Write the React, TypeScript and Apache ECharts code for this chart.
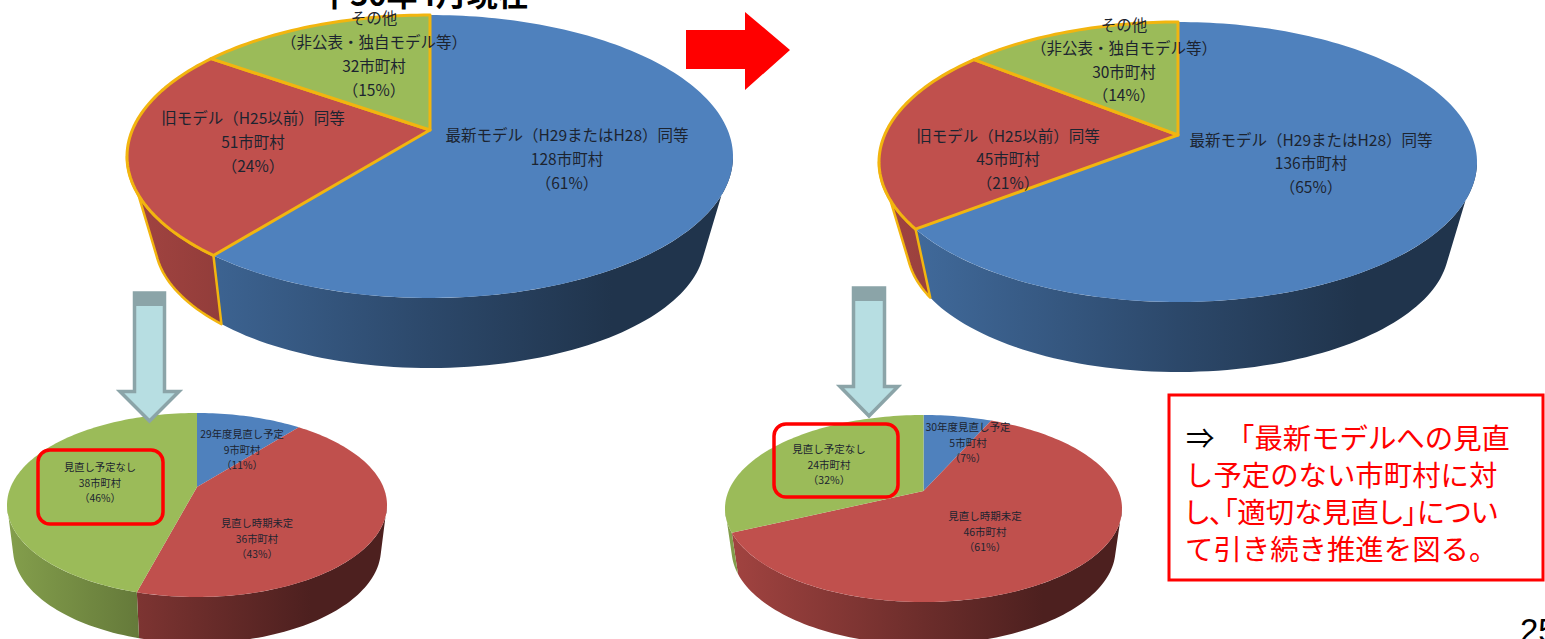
import React, { useEffect, useRef } from "react";
import * as echarts from "echarts";

const JP = '"Noto Sans CJK JP", "Noto Sans", sans-serif';

// ---- data ----
const topLeftNames = ["最新モデル（H29またはH28）同等", "旧モデル（H25以前）同等", "その他\n（非公表・独自モデル等）"];
const topLeftValues = [128, 51, 32];
const topLeftShares = ["61%", "24%", "15%"];

const topRightNames = ["最新モデル（H29またはH28）同等", "旧モデル（H25以前）同等", "その他\n（非公表・独自モデル等）"];
const topRightValues = [136, 45, 30];
const topRightShares = ["65%", "21%", "14%"];

const lowLeftNames = ["29年度見直し予定", "見直し時期未定", "見直し予定なし"];
const lowLeftValues = [9, 36, 38];
const lowLeftShares = ["11%", "43%", "46%"];

const lowRightNames = ["30年度見直し予定", "見直し時期未定", "見直し予定なし"];
const lowRightValues = [5, 46, 24];
const lowRightShares = ["7%", "61%", "32%"];

const unit = "市町村";
const titleLeft = "平30年4月現在";
const calloutArrow = "⇒";
const calloutLines = ["「最新モデルへの見直", "し予定のない市町村に対", "し、「適切な見直し」につい", "て引き続き推進を図る。"];
const pageNumber = "25";

// ---- styling and layout ----
const sliceColors = [[79, 129, 189], [192, 80, 77], [155, 187, 89]];
const GOLD = "#f2b50f";
const shade = (c: number[], k: number) => `rgb(${c.map((v) => Math.round(v * k)).join(",")})`;

type Layout = {
  cx: number; cy: number; rx: number; ry: number; t: number;
  wallCy: number; wallRx: number; wallRy: number; wallT: number;
  gold: boolean[]; fontSize: number; lineHeight: number;
  labels: number[][];
};

const pies: { names: string[]; values: number[]; shares: string[]; layout: Layout }[] = [
  {
    names: topLeftNames, values: topLeftValues, shares: topLeftShares,
    layout: {
      cx: 430, cy: 156.5, rx: 303, ry: 141.5, t: -0.187,
      wallCy: 242, wallRx: 275, wallRy: 126, wallT: -0.27,
      gold: [false, true, true], fontSize: 15.5, lineHeight: 24,
      labels: [[567, 158], [253, 141], [374, 53]],
    },
  },
  {
    names: topRightNames, values: topRightValues, shares: topRightShares,
    layout: {
      cx: 1178, cy: 162, rx: 299, ry: 140, t: -0.193,
      wallCy: 247, wallRx: 271, wallRy: 125, wallT: -0.28,
      gold: [false, true, true], fontSize: 15.5, lineHeight: 23.5,
      labels: [[1311, 162], [1008, 158], [1124, 59]],
    },
  },
  {
    names: lowLeftNames, values: lowLeftValues, shares: lowLeftShares,
    layout: {
      cx: 197, cy: 505, rx: 190, ry: 92, t: -0.196,
      wallCy: 549, wallRx: 184, wallRy: 94, wallT: -0.19,
      gold: [false, false, false], fontSize: 10.3, lineHeight: 15.7,
      labels: [[242, 449], [257, 538], [100, 482]],
    },
  },
  {
    names: lowRightNames, values: lowRightValues, shares: lowRightShares,
    layout: {
      cx: 923.5, cy: 508.5, rx: 198.5, ry: 93.5, t: -0.187,
      wallCy: 549.5, wallRx: 192, wallRy: 95, wallT: -0.19,
      gold: [false, false, false], fontSize: 10.5, lineHeight: 15.7,
      labels: [[968, 442], [985, 531], [829, 464]],
    },
  },
];

// A circle seen in perspective: radial lines stay straight and meet at the apex.
function rim(l: Layout, frac: number, wall: boolean): number[] {
  const t = wall ? l.wallT : l.t;
  const a = frac * Math.PI * 2;
  const s = Math.sqrt(1 - t * t);
  const d = 1 - t * Math.cos(a);
  const nx = (Math.sin(a) * s) / d;
  const ny = (-Math.cos(a) + t) / d;
  if (!wall) return [l.cx + nx * l.rx, l.cy + ny * l.ry];
  return [l.cx + nx * l.wallRx, l.wallCy + ny * l.wallRy];
}

function span(values: number[], i: number): number[] {
  const total = values.reduce((a, b) => a + b, 0);
  const start = values.slice(0, i).reduce((a, b) => a + b, 0);
  return [start / total, (start + values[i]) / total];
}

function arc(l: Layout, a: number, b: number, wall: boolean): number[][] {
  const n = Math.max(4, Math.ceil((b - a) * 240));
  const pts: number[][] = [];
  for (let k = 0; k <= n; k++) pts.push(rim(l, a + ((b - a) * k) / n, wall));
  return pts;
}

// The parts of the rims that lie on the visible front of the cylinder:
// from the top rim's side extremes and the common tangents to the lower rim.
function silhouette(l: Layout) {
  let topR = 0, topL = 0.5, maxX = -Infinity, minX = Infinity;
  for (let f = 0; f < 1; f += 0.001) {
    const [x] = rim(l, f, false);
    if (x > maxX) { maxX = x; topR = f; }
    if (x < minX) { minX = x; topL = f; }
  }
  const pr = rim(l, topR, false);
  const pl = rim(l, topL, false);
  let botR = 0.25, botL = 0.75, bestR = -Infinity, bestL = -Infinity;
  for (let f = 0; f < 1; f += 0.001) {
    const [x, y] = rim(l, f, true);
    if (y > pr[1] + 1) {
      const s = (x - pr[0]) / (y - pr[1]);
      if (f < 0.5 && s > bestR) { bestR = s; botR = f; }
    }
    if (y > pl[1] + 1) {
      const s = (pl[0] - x) / (y - pl[1]);
      if (f > 0.5 && s > bestL) { bestL = s; botL = f; }
    }
  }
  return { topR, topL, botR, botL };
}

function buildSeries(): any[] {
  const out: any[] = [];
  pies.forEach((pie) => {
    const l = pie.layout;
    const sil = silhouette(l);
    out.push({
      type: "custom", coordinateSystem: "none", silent: true, z: 2, data: pie.values,
      renderItem: (params: any) => {
        const i = params.dataIndex;
        const [a, b] = span(pie.values, i);
        const t0 = Math.max(a, sil.topR), t1 = Math.min(b, sil.topL);
        const b0 = Math.max(a, sil.botR), b1 = Math.min(b, sil.botL);
        if (t0 >= t1 || b0 >= b1) return null;
        const c = sliceColors[i];
        const fill = new echarts.graphic.LinearGradient(
          l.cx - l.rx, 0, l.cx + l.rx, 0,
          [
            { offset: 0, color: shade(c, 0.85) },
            { offset: 0.5, color: shade(c, 0.56) },
            { offset: 0.8, color: shade(c, 0.4) },
            { offset: 1, color: shade(c, 0.4) },
          ],
          true
        );
        const points = arc(l, t0, t1, false).concat(arc(l, b0, b1, true).reverse());
        return {
          type: "polygon", shape: { points },
          style: l.gold[i] ? { fill, stroke: GOLD, lineWidth: 2.5, lineJoin: "round" } : { fill },
        };
      },
    });
    out.push({
      type: "custom", coordinateSystem: "none", silent: true, z: 3, data: pie.values,
      renderItem: (params: any) => {
        const i = params.dataIndex;
        const [a, b] = span(pie.values, i);
        const apex = [l.cx, l.cy + l.t * l.ry];
        const points = [apex].concat(arc(l, a, b, false));
        const fill = shade(sliceColors[i], 1);
        return {
          type: "polygon", shape: { points },
          style: l.gold[i] ? { fill, stroke: GOLD, lineWidth: 3, lineJoin: "round" } : { fill },
        };
      },
    });
    out.push({
      type: "custom", coordinateSystem: "none", silent: true, z: 4, data: pie.values,
      renderItem: (params: any, api: any) => {
        const i = params.dataIndex;
        const [x, y] = l.labels[i];
        return {
          type: "text", x, y,
          style: {
            text: `${pie.names[i]}\n${api.value(0)}${unit}\n（${pie.shares[i]}）`,
            align: "center", verticalAlign: "middle",
            fontFamily: JP, fontSize: l.fontSize, lineHeight: l.lineHeight, fill: "#1c2430",
          },
        };
      },
    });
  });
  return out;
}

const ARROW_STROKE = "#8ba4a8";
const ARROW_FILL = "#b7dee2";

function downArrow(stemL: number, stemR: number, capTop: number, capBottom: number, headY: number, headL: number, headR: number, tipY: number): any[] {
  const mid = (stemL + stemR) / 2;
  return [
    {
      type: "polygon", z: 10,
      shape: { points: [[stemL + 1.5, capTop], [stemR - 1.5, capTop], [stemR - 1.5, headY + 1.5], [headR - 4, headY + 1.5], [mid, tipY - 2], [headL + 4, headY + 1.5], [stemL + 1.5, headY + 1.5]] },
      style: { fill: ARROW_FILL, stroke: ARROW_STROKE, lineWidth: 3.5 },
    },
    {
      type: "rect", z: 11,
      shape: { x: stemL, y: capTop, width: stemR - stemL, height: capBottom - capTop },
      style: { fill: ARROW_STROKE },
    },
  ];
}

function calloutText(text: string, x: number, y: number, fill = "#ff0000", z = 13): any {
  return {
    type: "text", z, x, y,
    style: { text, fontFamily: JP, fontSize: 28.4, fill, align: "left", verticalAlign: "middle" },
  };
}

function buildGraphics(): any[] {
  return [
    {
      type: "text", z: 1, x: 319, y: 7.5,
      style: { text: titleLeft, fontFamily: JP, fontWeight: "bold", fontSize: 31, fill: "#000", align: "left", verticalAlign: "bottom" },
    },
    {
      type: "polygon", z: 10,
      shape: { points: [[686, 30], [745, 30], [745, 12], [790, 50], [745, 90], [745, 69], [686, 69]] },
      style: { fill: "#ff0000" },
    },
    ...downArrow(133, 166, 293, 306, 390, 116, 183, 423),
    ...downArrow(852, 886, 288, 301, 385, 836, 902, 418),
    {
      type: "rect", z: 12,
      shape: { x: 38, y: 450, width: 125, height: 74, r: 12 },
      style: { fill: "none", stroke: "#ff0000", lineWidth: 3.5 },
    },
    {
      type: "rect", z: 12,
      shape: { x: 774, y: 424, width: 124, height: 73, r: 12 },
      style: { fill: "none", stroke: "#ff0000", lineWidth: 3.5 },
    },
    {
      type: "rect", z: 12,
      shape: { x: 1169, y: 395, width: 374, height: 185 },
      style: { fill: "#fff", stroke: "#ff0000", lineWidth: 3 },
    },
    calloutText(calloutArrow, 1186, 436, "#000"),
    calloutText(calloutLines[0], 1226, 436),
    calloutText(calloutLines[1], 1185, 473),
    calloutText(calloutLines[2], 1185, 510),
    calloutText(calloutLines[3], 1185, 547),
    {
      type: "text", z: 13, x: 1520, y: 647,
      style: { text: pageNumber, fontFamily: '"Liberation Sans", Arial, sans-serif', fontSize: 33, fill: "#000", align: "left", verticalAlign: "bottom" },
    },
  ];
}

export default function App() {
  const ref = useRef<HTMLDivElement>(null);
  useEffect(() => {
    document.body.style.margin = "0";
    const chart = echarts.init(ref.current!, undefined, { renderer: "svg" });
    // The third callout line is set with proportional punctuation, as in the source.
    const tightenCallout = () => {
      ref.current?.querySelectorAll("text").forEach((el) => {
        if (el.textContent === calloutLines[2]) (el as SVGTextElement).style.fontFeatureSettings = '"palt"';
      });
    };
    chart.on("finished", tightenCallout);
    chart.setOption({
      animation: false,
      backgroundColor: "#ffffff",
      series: buildSeries(),
      graphic: { elements: buildGraphics() },
    });
    tightenCallout();
    return () => chart.dispose();
  }, []);
  return <div ref={ref} style={{ width: 1545, height: 639, overflow: "hidden" }} />;
}
